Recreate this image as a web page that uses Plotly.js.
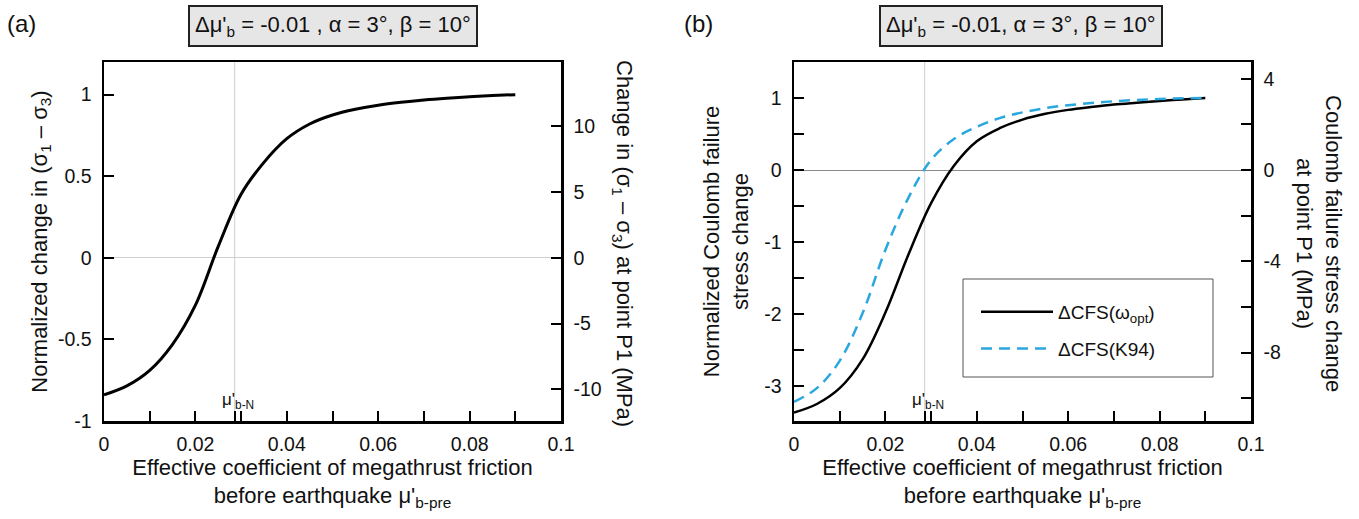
<!DOCTYPE html>
<html>
<head>
<meta charset="utf-8">
<script src="https://cdn.plot.ly/plotly-3.0.1.min.js"></script>
<style>html,body{margin:0;padding:0;background:#fff;}#chart{width:1359px;height:519px;}</style>
</head>
<body>
<div id="chart"></div>
<script>
// ---------- data ----------
const muPre = [0, 0.005, 0.01, 0.015, 0.02, 0.025, 0.03, 0.035, 0.04, 0.045, 0.05, 0.055, 0.06, 0.065, 0.07, 0.075, 0.08, 0.085, 0.09];
const normDiffStress = [-0.84, -0.785, -0.69, -0.53, -0.29, 0.07, 0.39, 0.585, 0.73, 0.82, 0.875, 0.91, 0.935, 0.953, 0.967, 0.978, 0.987, 0.994, 1.0];
const cfsOpt = [-3.37, -3.25, -3.03, -2.63, -1.98, -1.18, -0.46, 0.06, 0.40, 0.58, 0.70, 0.78, 0.835, 0.875, 0.91, 0.935, 0.958, 0.98, 1.0];
const cfsK94 = [-3.22, -3.03, -2.65, -1.99, -1.11, -0.39, 0.14, 0.43, 0.60, 0.72, 0.80, 0.86, 0.90, 0.93, 0.955, 0.972, 0.985, 0.995, 1.0];
const muBN = 0.0286;

const xTickVals = [0, 0.02, 0.04, 0.06, 0.08, 0.1];
const xTickText = ["0", "0.02", "0.04", "0.06", "0.08", "0.1"];
const xMinorVals = [0.01, 0.03, 0.05, 0.07, 0.09, muBN];
const yaTickVals = [-1, -0.5, 0, 0.5, 1];
const yaTickText = ["-1", "-0.5", "0", "0.5", "1"];
const yaRightTickVals = [-10, -5, 0, 5, 10];
const yaRightTickText = ["-10", "-5", "0", "5", "10"];
const ybTickVals = [-3, -2, -1, 0, 1];
const ybTickText = ["-3", "-2", "-1", "0", "1"];
const ybMinorVals = [-2.5, -1.5, -0.5, 0.5];
const ybRightTickVals = [-8, -4, 0, 4];
const ybRightTickText = ["-8", "-4", "0", "4"];
const ybRightMinorVals = [-10, -6, -2, 2];

// ---------- layout helpers ----------
const W = 1359, H = 519;
const px = x => x / W;
const py = y => 1 - y / H;
const FONT = "Liberation Sans, Arial, sans-serif";
const TICK = 19.5, TITLE = 22;

const traces = [
  {x: muPre, y: normDiffStress, xaxis: 'x', yaxis: 'y', mode: 'lines', line: {color: '#000', width: 3, shape: 'spline', smoothing: 1}, showlegend: false, hoverinfo: 'skip'},
  // invisible companions so the right-hand (MPa) axes are drawn
  {x: muPre, y: normDiffStress, xaxis: 'x', yaxis: 'y2', mode: 'lines', opacity: 0, line: {width: 0}, showlegend: false, hoverinfo: 'skip'},
  {x: muPre, y: cfsOpt, xaxis: 'x2', yaxis: 'y4', mode: 'lines', opacity: 0, line: {width: 0}, showlegend: false, hoverinfo: 'skip'},
  {x: muPre, y: cfsOpt, xaxis: 'x2', yaxis: 'y3', mode: 'lines', name: 'ΔCFS(ω<sub>opt</sub>)', legendgroup: 'a', line: {color: '#000', width: 2.5, shape: 'spline', smoothing: 1}},
  {x: muPre, y: cfsK94, xaxis: 'x2', yaxis: 'y3', mode: 'lines', name: 'ΔCFS(K94)', legendgroup: 'b', line: {color: '#2aa7de', width: 2.5, dash: '11px,7px', shape: 'spline', smoothing: 1}}
];

function xAxis(domain, anchor) {
  return {
    domain: domain, anchor: anchor, range: [0, 0.1],
    tickmode: 'array', tickvals: xTickVals, ticktext: xTickText,
    ticks: 'inside', ticklen: 10, tickwidth: 2, tickcolor: '#000',
    minor: {tickmode: 'array', tickvals: xMinorVals, ticks: 'inside', ticklen: 10, tickwidth: 2, tickcolor: '#000', showgrid: false},
    showline: true, linewidth: 2.5, linecolor: '#000', mirror: true,
    showgrid: false, zeroline: false, automargin: false,
    tickfont: {size: TICK, color: '#111'}, ticklabelstandoff: 4,
    title: {text: 'Effective coefficient of megathrust friction<br>before earthquake μ\'<sub>b-pre</sub>', font: {size: TITLE, color: '#111'}, standoff: 5}
  };
}
function yLeft(domain, anchor, range, tv, tt, title, zc, standoff) {
  return {
    domain: domain, anchor: anchor, range: range,
    tickmode: 'array', tickvals: tv, ticktext: tt,
    ticks: 'inside', ticklen: 10, tickwidth: 2, tickcolor: '#000',
    showline: true, linewidth: 2.5, linecolor: '#000', mirror: false,
    showgrid: false, zeroline: true, zerolinecolor: zc, zerolinewidth: 1, automargin: false,
    tickfont: {size: TICK, color: '#111'}, ticklabelstandoff: 6,
    title: {text: title, font: {size: TITLE, color: '#111'}, standoff: standoff}
  };
}
function yRight(overlay, anchor, range, tv, tt) {
  return {
    overlaying: overlay, side: 'right', anchor: anchor, range: range,
    tickmode: 'array', tickvals: tv, ticktext: tt,
    ticks: 'inside', ticklen: 10, tickwidth: 2, tickcolor: '#000',
    showline: true, linewidth: 2.5, linecolor: '#000',
    showgrid: false, zeroline: false, automargin: false,
    tickfont: {size: TICK, color: '#111'}, ticklabelstandoff: 6
  };
}

const yDom = [py(421), py(62)];
const yb = yLeft(yDom, 'x2', [-3.486, 1.5], ybTickVals, ybTickText, 'Normalized Coulomb failure<br>stress change', '#8a8a8a', 10);
yb.minor = {tickmode: 'array', tickvals: ybMinorVals, ticks: 'inside', ticklen: 10, tickwidth: 2, tickcolor: '#000', showgrid: false};
const yb2 = yRight('y3', 'x2', [-11.0, 4.74], ybRightTickVals, ybRightTickText);
yb2.minor = {tickmode: 'array', tickvals: ybRightMinorVals, ticks: 'inside', ticklen: 10, tickwidth: 2, tickcolor: '#000', showgrid: false};

const boxText1 = 'Δμ\'<sub>b</sub> = -0.01 , α = 3°, β = 10°';
const boxText2 = 'Δμ\'<sub>b</sub> = -0.01, α = 3°, β = 10°';

function note(text, x, y, size, extra) {
  return Object.assign({text: text, xref: 'paper', yref: 'paper', x: px(x), y: py(y), xanchor: 'center', yanchor: 'middle',
    showarrow: false, font: {size: size, color: '#111'}}, extra || {});
}

const layout = {
  width: W, height: H,
  margin: {l: 0, r: 0, t: 0, b: 0},
  paper_bgcolor: '#fff', plot_bgcolor: 'rgba(0,0,0,0)',
  font: {family: FONT, color: '#111'},
  showlegend: true,
  legend: {x: px(976), y: py(293), xanchor: 'left', yanchor: 'top', bgcolor: 'rgba(0,0,0,0)', borderwidth: 0,
           font: {size: 19, color: '#111'}, tracegroupgap: 9, itemwidth: 72, traceorder: 'grouped'},
  xaxis: xAxis([px(104), px(561)], 'y'),
  yaxis: yLeft(yDom, 'x', [-1, 1.2], yaTickVals, yaTickText, 'Normalized change in (σ<sub>1</sub> – σ<sub>3</sub>)', '#cfcfcf', 5),
  yaxis2: yRight('y', 'x', [-12.4, 14.88], yaRightTickVals, yaRightTickText),
  xaxis2: xAxis([px(794), px(1251)], 'y3'),
  yaxis3: yb,
  yaxis4: yb2,
  shapes: [
    {type: 'line', xref: 'x', yref: 'y domain', x0: muBN, x1: muBN, y0: 0, y1: 1, line: {color: '#cfcfcf', width: 1}, layer: 'below'},
    {type: 'line', xref: 'x2', yref: 'y3 domain', x0: muBN, x1: muBN, y0: 0, y1: 1, line: {color: '#cfcfcf', width: 1}, layer: 'below'},
    {type: 'rect', xref: 'paper', yref: 'paper', x0: px(963), x1: px(1213), y0: py(377), y1: py(279), line: {color: '#555', width: 1}, fillcolor: 'rgba(0,0,0,0)'}
  ],
  annotations: [
    note('(a)', 21, 24, 24),
    note('(b)', 698, 24, 24),
    note(boxText1, 333, 26, 22, {bgcolor: '#e6e6e6', bordercolor: '#222', borderwidth: 2, borderpad: 5}),
    note(boxText2, 1021, 26, 22, {bgcolor: '#e6e6e6', bordercolor: '#222', borderwidth: 2, borderpad: 5}),
    note('Change in (σ<sub>1</sub> – σ<sub>3</sub>) at point P1 (MPa)', 623, 243, TITLE, {textangle: 90}),
    note('Coulomb failure stress change<br>at point P1 (MPa)', 1319, 243, TITLE, {textangle: 90}),
    {text: 'μ\'<sub>b-N</sub>', xref: 'x', yref: 'y domain', x: muBN, y: 0, xanchor: 'center', yanchor: 'bottom', yshift: 7, xshift: 3, showarrow: false, font: {size: 17, color: '#111'}},
    {text: 'μ\'<sub>b-N</sub>', xref: 'x2', yref: 'y3 domain', x: muBN, y: 0, xanchor: 'center', yanchor: 'bottom', yshift: 7, xshift: 3, showarrow: false, font: {size: 17, color: '#111'}}
  ]
};

Plotly.newPlot('chart', traces, layout, {displayModeBar: false, staticPlot: true});
</script>
</body>
</html>
